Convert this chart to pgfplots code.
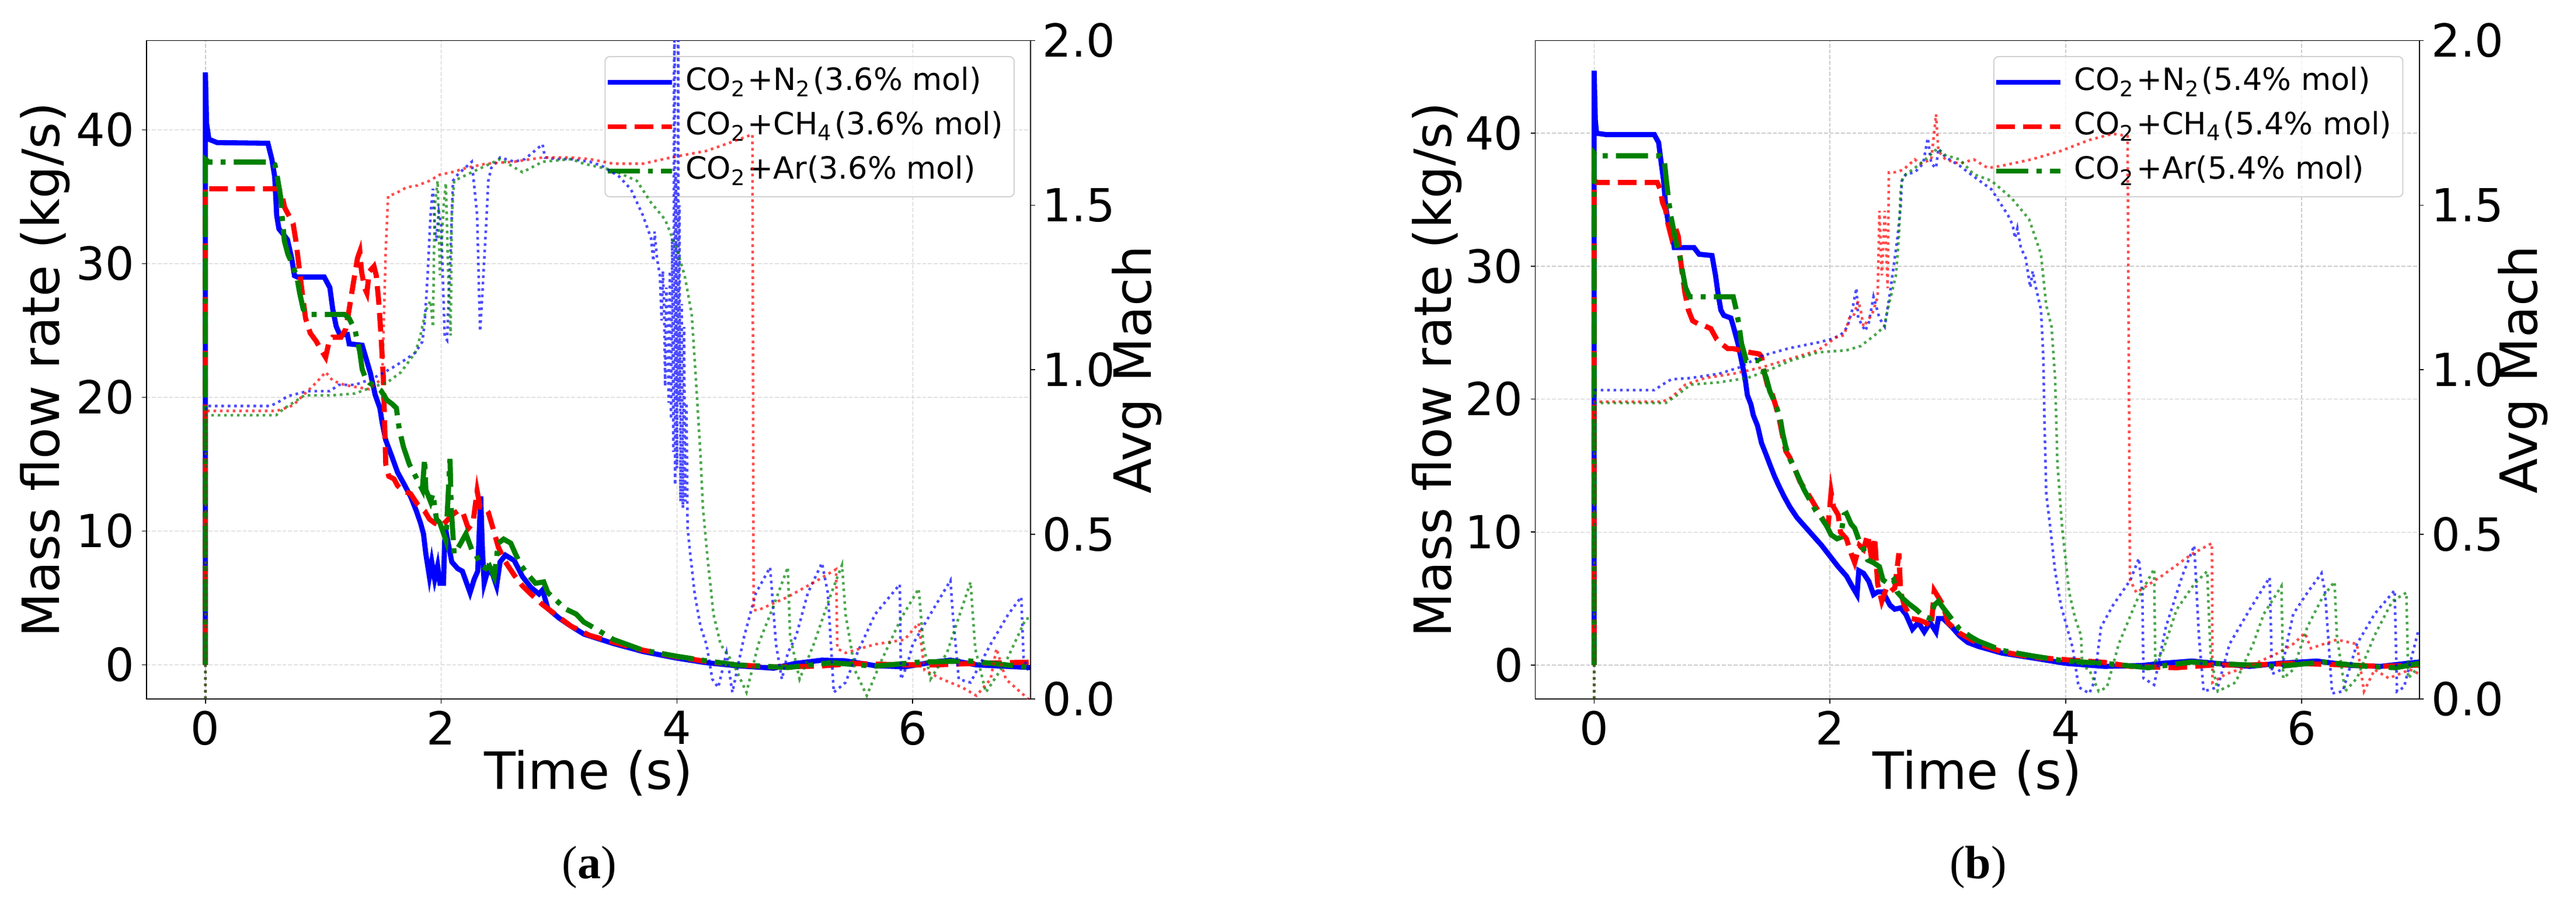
\documentclass[border=0pt]{standalone}
\usepackage{fontspec}
\setmainfont{DejaVu Sans}
\newfontfamily\capfont{Liberation Serif}
\usepackage{pgfplots}
\pgfplotsset{compat=1.18}
\definecolor{mblue}{rgb}{0,0,1}
\definecolor{mred}{rgb}{1,0,0}
\definecolor{mgreen}{rgb}{0,0.5,0}
\pgfplotsset{
  common/.style={
    scale only axis, width=151.45pt, height=112.75pt,
    xmin=-0.5, xmax=7,
    /pgf/number format/assume math mode=true,
    tick label style={font=\fontsize{7.8}{8}\selectfont, inner sep=1.1pt},
    label style={font=\fontsize{8.8}{10}\selectfont},
    tick align=outside, major tick length=0.77pt,
    every tick/.style={black, line width=0.16pt},
    axis line style={line width=0.16pt},
  },
  leftax/.style={common,
    xtick={0,2,4,6}, ytick={0,10,20,30,40},
    xtick pos=left, ytick pos=left,
    grid=major, grid style={gray!40, line width=0.15pt, dash pattern=on 0.67pt off 0.3pt},
    xlabel={Time (s)}, ylabel={Mass flow rate (kg/s)},
    xlabel style={at={(axis description cs:0.5,-0.1126)}, anchor=center},
    legend cell align=left,
    legend image code/.code={\draw[#1] (0pt,0pt) -- (11pt,0pt);},
    legend style={anchor=north east, font=\fontsize{5.25}{6}\selectfont,
      fill=white, fill opacity=0.8, text opacity=1, draw=gray!35, draw opacity=1,
      rounded corners=0.8pt, line width=0.2pt, inner xsep=0pt, inner ysep=0.6pt,
      row sep=0pt,
      nodes={inner xsep=1.9pt, inner ysep=1.2pt, text height=4pt, text depth=1.2pt, anchor=west}},
  },
  rightax/.style={common,
    axis x line=none, axis y line*=right,
    ymin=0, ymax=2, ytick={0,0.5,1,1.5,2},
    yticklabel style={/pgf/number format/fixed, /pgf/number format/fixed zerofill, /pgf/number format/precision=1},
    ylabel={Avg Mach},
  },
  sN/.style={mblue, line width=0.88pt},
  sC/.style={mred, line width=0.88pt, dash pattern=on 3.2pt off 1.4pt},
  sA/.style={mgreen, line width=0.88pt, dash pattern=on 5.5pt off 1.4pt on 0.86pt off 1.4pt},
  mN/.style={mblue, draw opacity=0.7, line width=0.45pt, dash pattern=on 0.45pt off 0.65pt},
  mC/.style={mred, draw opacity=0.7, line width=0.45pt, dash pattern=on 0.45pt off 0.65pt},
  mA/.style={mgreen, draw opacity=0.7, line width=0.45pt, dash pattern=on 0.45pt off 0.65pt},
}
\begin{document}
\begin{tikzpicture}
\path[use as bounding box] (0,0) rectangle (441.2pt,155.4pt);
% ================= Panel (a) =================
\begin{axis}[leftax, at={(25.08pt,35.7pt)}, anchor=south west,
  ymin=-2.55, ymax=46.68,
  ylabel style={at={(axis description cs:-0.1148,0.5)}, anchor=center},
  legend style={at={(axis description cs:0.982,0.9765)}}]
\addplot[sN] coordinates {(0,0) (0,44.3) (0.01,40.5) (0.03,39.3) (0.1,39.05) (0.53,39.0) (0.564,37.8) (0.588,36.5) (0.605,33.6) (0.624,32.6) (0.696,31.8) (0.732,30.4) (0.756,29.1) (0.78,29.0) (1.008,29.0) (1.056,28.2) (1.08,26.6) (1.11,25.3) (1.14,24.7) (1.205,24.7) (1.22,24.0) (1.33,23.9) (1.37,22.7) (1.40,21.8) (1.44,20.2) (1.48,19.2) (1.50,18.1) (1.53,16.8) (1.585,15.5) (1.63,14.4) (1.68,13.6) (1.74,12.6) (1.79,11.5) (1.825,10.6) (1.85,9.8) (1.87,8.3) (1.90,6.6) (1.92,7.7) (1.945,6.4) (1.97,7.4) (1.99,6.1) (2.02,6.1) (2.03,9.3) (2.045,9.8) (2.09,7.7) (2.14,7.2) (2.18,7.0) (2.245,5.4) (2.28,6.4) (2.31,7.0) (2.335,12.6) (2.35,8.6) (2.365,6.1) (2.40,7.2) (2.44,6.7) (2.47,5.9) (2.50,7.7) (2.545,8.2) (2.62,7.8) (2.69,6.6) (2.76,5.8) (2.83,5.3) (2.86,5.6) (2.905,4.2) (3.0,3.5) (3.10,2.9) (3.21,2.3) (3.46,1.6) (3.71,1.0) (4.0,0.5) (4.25,0.16) (4.5,-0.06) (4.82,-0.25) (5.0,0.1) (5.23,0.35) (5.43,0.3) (5.68,-0.06) (5.93,-0.15) (6.17,0.2) (6.32,0.35) (6.54,0.0) (7.0,-0.2)};
\addlegendentry{CO\textsubscript{2}+N\textsubscript{2}(3.6\% mol)}
\addplot[sC] coordinates {(0,0) (0,35.8) (0.03,35.6) (0.624,35.6) (0.648,35.2) (0.672,34.2) (0.72,33.4) (0.744,33.0) (0.768,31.7) (0.79,30.1) (0.816,28.2) (0.85,25.9) (0.89,24.8) (0.94,24.2) (0.985,23.5) (1.02,23.0) (1.045,24.0) (1.08,24.5) (1.15,24.5) (1.19,25.1) (1.22,26.6) (1.26,28.8) (1.29,30.4) (1.31,30.9) (1.325,29.4) (1.35,28.2) (1.37,27.8) (1.39,29.4) (1.43,29.8) (1.45,29.1) (1.47,27.2) (1.49,24.6) (1.51,21.4) (1.52,18.2) (1.53,15.0) (1.556,14.1) (1.60,13.9) (1.63,13.4) (1.68,13.0) (1.74,12.8) (1.80,12.0) (1.86,11.5) (1.90,10.9) (1.945,10.6) (2.0,10.4) (2.04,10.7) (2.09,11.2) (2.14,11.5) (2.18,11.5) (2.23,10.2) (2.27,10.6) (2.305,13.0) (2.33,11.8) (2.365,11.8) (2.40,11.4) (2.44,10.2) (2.485,8.8) (2.545,7.7) (2.62,6.7) (2.69,5.9) (2.76,5.3) (2.86,4.5) (2.98,3.7) (3.10,2.9) (3.26,2.2) (3.46,1.7) (3.71,1.1) (4.0,0.6) (4.25,0.25) (4.5,0.0) (4.8,-0.15) (5.2,-0.1) (5.5,0.1) (5.9,0.0) (6.2,0.0) (6.5,0.1) (7.0,0.2)};
\addlegendentry{CO\textsubscript{2}+CH\textsubscript{4}(3.6\% mol)}
\addplot[sA] coordinates {(0,0) (0,37.8) (0.03,37.6) (0.55,37.6) (0.59,37.4) (0.61,36.5) (0.64,34.9) (0.65,33.6) (0.67,31.7) (0.70,30.7) (0.745,29.8) (0.78,28.8) (0.80,27.8) (0.83,26.6) (0.865,26.2) (1.18,26.2) (1.22,25.9) (1.27,25.0) (1.31,23.4) (1.33,22.1) (1.36,21.4) (1.39,21.1) (1.44,20.8) (1.49,20.5) (1.54,19.8) (1.585,19.5) (1.62,19.2) (1.645,17.6) (1.68,16.3) (1.73,15.0) (1.765,14.4) (1.80,13.8) (1.84,13.1) (1.86,15.4) (1.87,13.1) (1.91,12.2) (1.93,12.8) (1.96,10.9) (1.99,10.6) (2.04,9.3) (2.075,15.4) (2.085,11.8) (2.11,8.3) (2.16,9.0) (2.21,9.8) (2.26,8.6) (2.29,8.3) (2.34,7.4) (2.38,7.2) (2.41,7.4) (2.45,6.6) (2.485,9.1) (2.53,9.4) (2.59,9.1) (2.63,8.3) (2.68,7.4) (2.74,6.7) (2.80,6.1) (2.87,6.2) (2.905,5.4) (2.98,4.8) (3.05,4.2) (3.145,3.8) (3.21,3.2) (3.31,2.7) (3.46,1.9) (3.71,1.1) (4.0,0.64) (4.25,0.3) (4.5,0.0) (4.94,-0.2) (5.31,0.16) (5.68,-0.1) (6.05,0.2) (6.47,0.3) (7.0,-0.2)};
\addlegendentry{CO\textsubscript{2}+Ar(3.6\% mol)}
\end{axis}
\begin{axis}[rightax, at={(25.08pt,35.7pt)}, anchor=south west,
  ylabel style={at={(axis description cs:1.1201,0.5)}, anchor=center}]
\addplot[mN] coordinates {(0,0) (0.005,0.89) (0.55,0.89) (0.61,0.90) (0.70,0.92) (0.865,0.935) (1.056,0.935) (1.13,0.954) (1.27,0.954) (1.42,0.974) (1.49,0.987) (1.585,1.006) (1.705,1.033) (1.78,1.052) (1.84,1.085) (1.86,1.143) (1.885,1.287) (1.91,1.47) (1.93,1.55) (1.945,1.44) (1.957,1.39) (1.98,1.48) (2.0,1.44) (2.03,1.10) (2.05,1.09) (2.08,1.365) (2.10,1.574) (2.14,1.593) (2.26,1.632) (2.305,1.47) (2.33,1.117) (2.35,1.235) (2.38,1.43) (2.40,1.574) (2.425,1.613) (2.50,1.645) (2.62,1.632) (2.71,1.64) (2.86,1.685) (2.88,1.645) (2.98,1.64) (3.10,1.64) (3.26,1.632) (3.36,1.62) (3.51,1.587) (3.61,1.548) (3.71,1.47) (3.78,1.40) (3.80,1.33) (3.81,1.42) (3.83,1.34) (3.855,1.287) (3.87,1.15) (3.88,1.30) (3.89,1.21) (3.90,0.95) (3.91,1.25) (3.92,1.10) (3.93,0.90) (3.94,1.30) (3.95,0.85) (3.96,1.40) (3.97,0.75) (3.975,1.9) (3.98,2.05) (3.985,0.65) (3.99,1.6) (4.0,0.70) (4.01,2.05) (4.015,0.9) (4.02,1.5) (4.03,0.6) (4.04,1.2) (4.05,0.58) (4.06,1.13) (4.07,0.6) (4.08,0.9) (4.09,0.52) (4.11,0.45) (4.15,0.32) (4.20,0.22) (4.25,0.166) (4.30,0.06) (4.35,0.035) (4.42,0.14) (4.47,0.02) (4.57,0.19) (4.67,0.322) (4.79,0.40) (4.84,0.166) (4.89,0.06) (4.94,0.14) (5.01,0.19) (5.11,0.322) (5.23,0.413) (5.28,0.322) (5.33,0.02) (5.43,0.05) (5.53,0.14) (5.68,0.257) (5.83,0.322) (5.89,0.348) (5.90,0.06) (5.95,0.10) (6.0,0.166) (6.17,0.27) (6.32,0.36) (6.34,0.257) (6.39,0.06) (6.49,0.05) (6.66,0.166) (6.81,0.257) (6.92,0.31) (6.94,0.126) (6.98,0.087)};
\addplot[mC] coordinates {(0,0) (0.005,0.875) (0.60,0.875) (0.65,0.880) (0.744,0.892) (0.865,0.935) (0.94,0.961) (1.02,0.993) (1.08,0.967) (1.18,0.954) (1.27,0.948) (1.39,0.941) (1.50,0.974) (1.53,1.365) (1.55,1.528) (1.61,1.535) (1.705,1.554) (1.80,1.56) (1.90,1.574) (1.99,1.593) (2.09,1.60) (2.21,1.613) (2.38,1.626) (2.62,1.632) (2.86,1.645) (3.10,1.645) (3.26,1.64) (3.46,1.626) (3.71,1.626) (3.95,1.645) (4.25,1.665) (4.45,1.69) (4.64,1.715) (4.65,0.27) (4.69,0.27) (4.94,0.31) (5.19,0.36) (5.35,0.394) (5.36,0.153) (5.43,0.14) (5.68,0.166) (5.93,0.18) (6.05,0.23) (6.10,0.087) (6.25,0.06) (6.42,0.035) (6.54,0.01) (6.66,0.06) (6.71,0.153) (6.79,0.06) (6.98,0.0)};
\addplot[mA] coordinates {(0,0) (0.005,0.862) (0.60,0.862) (0.67,0.883) (0.84,0.922) (1.056,0.922) (1.27,0.928) (1.42,0.948) (1.54,0.961) (1.66,0.993) (1.78,1.052) (1.82,1.098) (1.87,1.18) (1.91,1.21) (1.93,1.13) (1.945,1.495) (1.97,1.574) (1.99,1.287) (2.02,1.495) (2.04,1.567) (2.06,1.287) (2.08,1.104) (2.09,1.47) (2.11,1.574) (2.26,1.60) (2.50,1.64) (2.69,1.60) (2.86,1.632) (3.10,1.64) (3.21,1.626) (3.46,1.606) (3.66,1.574) (3.78,1.508) (3.90,1.456) (4.0,1.365) (4.065,1.287) (4.125,1.17) (4.16,0.974) (4.20,0.74) (4.22,0.583) (4.26,0.426) (4.31,0.257) (4.37,0.166) (4.47,0.113) (4.59,0.02) (4.69,0.166) (4.82,0.283) (4.94,0.40) (4.96,0.19) (5.04,0.06) (5.16,0.166) (5.31,0.322) (5.40,0.407) (5.43,0.257) (5.51,0.087) (5.61,0.01) (5.73,0.113) (5.90,0.244) (6.05,0.335) (6.09,0.166) (6.15,0.06) (6.29,0.14) (6.49,0.355) (6.53,0.153) (6.62,0.02) (6.79,0.113) (6.96,0.244) (7.0,0.244)};
\end{axis}
% ================= Panel (b) =================
\begin{axis}[leftax, at={(262.93pt,35.7pt)}, anchor=south west,
  ymin=-2.55, ymax=46.97,
  ylabel style={at={(axis description cs:-0.1111,0.5)}, anchor=center},
  legend style={at={(axis description cs:0.982,0.9765)}}]
\addplot[sN] coordinates {(0,0) (0,44.7) (0.01,41.0) (0.02,40.0) (0.1,39.9) (0.51,39.9) (0.547,39.3) (0.57,37.7) (0.59,36.4) (0.607,34.5) (0.63,33.2) (0.655,32.9) (0.68,31.4) (0.847,31.4) (0.89,30.9) (1.0,30.8) (1.03,29.3) (1.05,28.0) (1.075,26.7) (1.10,26.3) (1.16,26.1) (1.18,25.5) (1.22,24.2) (1.25,22.9) (1.28,21.6) (1.30,20.3) (1.33,19.6) (1.35,18.8) (1.386,18.0) (1.42,16.7) (1.46,15.8) (1.49,15.1) (1.53,14.2) (1.566,13.5) (1.61,12.7) (1.66,11.9) (1.72,11.1) (1.78,10.5) (1.85,9.8) (1.93,9.0) (2.0,8.2) (2.07,7.4) (2.14,6.7) (2.19,5.9) (2.23,5.3) (2.245,7.1) (2.285,6.9) (2.33,6.3) (2.37,5.3) (2.405,5.5) (2.45,5.5) (2.51,4.5) (2.55,4.2) (2.60,4.3) (2.645,3.8) (2.70,2.7) (2.75,3.2) (2.80,2.5) (2.85,3.2) (2.90,2.5) (2.92,3.5) (2.96,3.5) (3.03,2.9) (3.10,2.2) (3.17,1.7) (3.26,1.4) (3.46,0.9) (3.71,0.55) (4.0,0.13) (4.33,-0.1) (4.65,-0.03) (4.82,0.13) (5.07,0.3) (5.27,0.13) (5.56,-0.1) (5.81,0.13) (6.13,0.3) (6.42,-0.03) (6.67,-0.1) (7.0,0.23)};
\addlegendentry{CO\textsubscript{2}+N\textsubscript{2}(5.4\% mol)}
\addplot[sC] coordinates {(0,0) (0,36.5) (0.02,36.3) (0.535,36.3) (0.56,35.8) (0.58,34.8) (0.607,34.2) (0.626,33.2) (0.655,32.2) (0.69,32.9) (0.715,32.2) (0.727,30.9) (0.75,29.3) (0.77,28.0) (0.80,26.7) (0.835,25.9) (0.894,25.6) (0.94,25.5) (0.99,25.3) (1.04,24.5) (1.075,24.2) (1.134,23.8) (1.18,23.8) (1.23,23.7) (1.33,23.5) (1.40,23.4) (1.42,23.2) (1.446,21.9) (1.475,20.9) (1.506,20.5) (1.537,19.6) (1.566,18.7) (1.595,17.4) (1.626,16.1) (1.66,15.6) (1.70,14.8) (1.746,13.8) (1.79,13.2) (1.84,12.5) (1.90,11.6) (1.95,10.8) (1.986,10.6) (2.01,13.0) (2.03,11.9) (2.07,11.3) (2.09,10.0) (2.14,9.5) (2.18,8.4) (2.21,7.7) (2.25,9.0) (2.285,8.7) (2.32,9.8) (2.36,7.7) (2.38,9.6) (2.405,6.1) (2.44,4.8) (2.48,5.8) (2.51,5.5) (2.55,5.8) (2.585,8.4) (2.60,5.5) (2.63,4.5) (2.69,3.5) (2.75,3.4) (2.81,3.2) (2.86,2.9) (2.885,5.6) (2.92,5.1) (2.96,4.5) (3.0,3.2) (3.10,2.4) (3.26,1.6) (3.46,1.0) (3.71,0.6) (4.0,0.4) (4.33,0.2) (4.55,-0.1) (4.94,-0.2) (5.24,0.0) (5.56,0.0) (5.93,0.13) (6.3,0.03) (6.67,-0.1) (7.0,0.0)};
\addlegendentry{CO\textsubscript{2}+CH\textsubscript{4}(5.4\% mol)}
\addplot[sA] coordinates {(0,0) (0,38.5) (0.02,38.3) (0.56,38.3) (0.595,38.0) (0.61,36.7) (0.63,35.1) (0.65,33.8) (0.68,32.5) (0.70,31.6) (0.73,30.6) (0.75,29.6) (0.775,28.4) (0.81,27.7) (1.18,27.7) (1.206,26.7) (1.23,25.5) (1.25,24.2) (1.29,22.9) (1.40,22.9) (1.434,22.2) (1.46,21.6) (1.49,20.6) (1.54,19.6) (1.58,18.5) (1.60,17.4) (1.626,16.4) (1.66,15.5) (1.70,14.8) (1.73,14.2) (1.78,13.2) (1.83,12.4) (1.88,11.6) (1.925,11.1) (1.97,10.5) (2.01,9.8) (2.06,9.5) (2.09,9.6) (2.12,11.3) (2.14,11.4) (2.18,10.6) (2.21,10.3) (2.25,9.3) (2.285,8.7) (2.32,7.9) (2.37,7.7) (2.42,7.4) (2.45,6.4) (2.50,6.1) (2.54,6.4) (2.57,5.5) (2.62,5.0) (2.67,4.6) (2.73,4.2) (2.79,3.7) (2.85,3.5) (2.885,4.5) (2.92,4.8) (2.97,4.2) (3.03,3.5) (3.10,2.7) (3.20,2.1) (3.26,1.8) (3.46,1.1) (3.71,0.7) (4.0,0.3) (4.33,0.13) (4.7,-0.2) (5.07,0.23) (5.24,0.13) (5.56,0.0) (5.81,-0.1) (6.18,0.23) (6.55,-0.1) (6.8,-0.2) (7.0,0.13)};
\addlegendentry{CO\textsubscript{2}+Ar(5.4\% mol)}
\end{axis}
\begin{axis}[rightax, at={(262.93pt,35.7pt)}, anchor=south west,
  ylabel style={at={(axis description cs:1.1174,0.5)}, anchor=center}]
\addplot[mN] coordinates {(0,0) (0.005,0.938) (0.51,0.938) (0.58,0.955) (0.655,0.971) (0.82,0.975) (1.06,0.988) (1.23,1.007) (1.42,1.042) (1.66,1.066) (1.90,1.083) (2.0,1.092) (2.09,1.105) (2.15,1.131) (2.19,1.183) (2.225,1.248) (2.24,1.157) (2.26,1.144) (2.30,1.118) (2.33,1.144) (2.37,1.222) (2.42,1.157) (2.465,1.131) (2.51,1.235) (2.54,1.313) (2.57,1.392) (2.60,1.496) (2.61,1.574) (2.645,1.594) (2.72,1.60) (2.79,1.626) (2.83,1.704) (2.86,1.626) (2.90,1.613) (2.92,1.672) (2.98,1.646) (3.10,1.62) (3.22,1.587) (3.37,1.548) (3.51,1.47) (3.55,1.44) (3.57,1.40) (3.59,1.43) (3.62,1.37) (3.66,1.34) (3.70,1.25) (3.72,1.30) (3.74,1.261) (3.79,1.183) (3.81,1.04) (3.82,0.844) (3.835,0.623) (3.87,0.519) (3.91,0.388) (3.96,0.284) (4.01,0.219) (4.06,0.154) (4.11,0.036) (4.20,0.017) (4.24,0.05) (4.30,0.219) (4.40,0.284) (4.55,0.362) (4.62,0.427) (4.65,0.323) (4.66,0.063) (4.75,0.043) (4.85,0.219) (4.99,0.375) (5.09,0.466) (5.13,0.193) (5.17,0.023) (5.29,0.036) (5.39,0.167) (5.56,0.271) (5.73,0.369) (5.75,0.076) (5.83,0.089) (5.93,0.258) (6.05,0.323) (6.17,0.382) (6.20,0.323) (6.26,0.017) (6.35,0.023) (6.47,0.167) (6.62,0.258) (6.79,0.33) (6.81,0.023) (6.87,0.036) (6.99,0.206)};
\addplot[mC] coordinates {(0,0) (0.005,0.903) (0.58,0.903) (0.655,0.916) (0.775,0.955) (0.94,0.975) (1.18,0.988) (1.42,1.007) (1.54,1.02) (1.66,1.033) (1.90,1.059) (2.05,1.098) (2.12,1.105) (2.165,1.157) (2.20,1.163) (2.24,1.209) (2.26,1.183) (2.285,1.131) (2.36,1.17) (2.405,1.222) (2.42,1.483) (2.44,1.287) (2.465,1.483) (2.49,1.248) (2.50,1.60) (2.55,1.60) (2.62,1.607) (2.72,1.639) (2.765,1.626) (2.86,1.639) (2.90,1.776) (2.92,1.665) (2.98,1.639) (3.10,1.626) (3.22,1.639) (3.34,1.613) (3.46,1.62) (3.71,1.639) (3.96,1.665) (4.20,1.698) (4.40,1.717) (4.525,1.71) (4.545,0.362) (4.60,0.323) (4.82,0.375) (5.07,0.44) (5.24,0.473) (5.245,0.05) (5.36,0.076) (5.56,0.10) (5.81,0.141) (5.93,0.167) (6.03,0.2) (6.08,0.154) (6.30,0.18) (6.47,0.167) (6.53,0.023) (6.62,0.089) (6.74,0.063) (6.92,0.089) (7.0,0.076)};
\addplot[mA] coordinates {(0,0) (0.005,0.899) (0.607,0.899) (0.70,0.922) (0.82,0.955) (1.06,0.962) (1.30,0.975) (1.49,1.0) (1.66,1.027) (1.90,1.053) (2.14,1.059) (2.26,1.072) (2.38,1.105) (2.46,1.131) (2.49,1.183) (2.525,1.235) (2.56,1.287) (2.585,1.405) (2.60,1.548) (2.62,1.587) (2.72,1.613) (2.81,1.639) (2.91,1.672) (2.98,1.652) (3.10,1.639) (3.22,1.594) (3.37,1.574) (3.54,1.522) (3.69,1.457) (3.79,1.352) (3.835,1.196) (3.88,1.131) (3.91,0.975) (3.93,0.714) (3.97,0.519) (4.03,0.323) (4.08,0.245) (4.13,0.193) (4.14,0.10) (4.20,0.089) (4.28,0.023) (4.35,0.036) (4.45,0.167) (4.60,0.297) (4.75,0.395) (4.76,0.115) (4.82,0.141) (4.94,0.271) (5.09,0.349) (5.20,0.388) (5.23,0.128) (5.29,0.023) (5.44,0.05) (5.59,0.167) (5.68,0.258) (5.83,0.343) (5.845,0.063) (5.93,0.089) (6.05,0.219) (6.18,0.31) (6.28,0.356) (6.30,0.193) (6.37,0.023) (6.47,0.063) (6.62,0.193) (6.77,0.297) (6.89,0.323) (6.905,0.063) (7.0,0.10)};
\end{axis}
% captions
\node[font=\capfont\fontsize{8}{9}\selectfont] at (100.9pt,6.9pt) {(\textbf{a})};
\node[font=\capfont\fontsize{8}{9}\selectfont] at (338.8pt,6.9pt) {(\textbf{b})};
\end{tikzpicture}
\end{document}
